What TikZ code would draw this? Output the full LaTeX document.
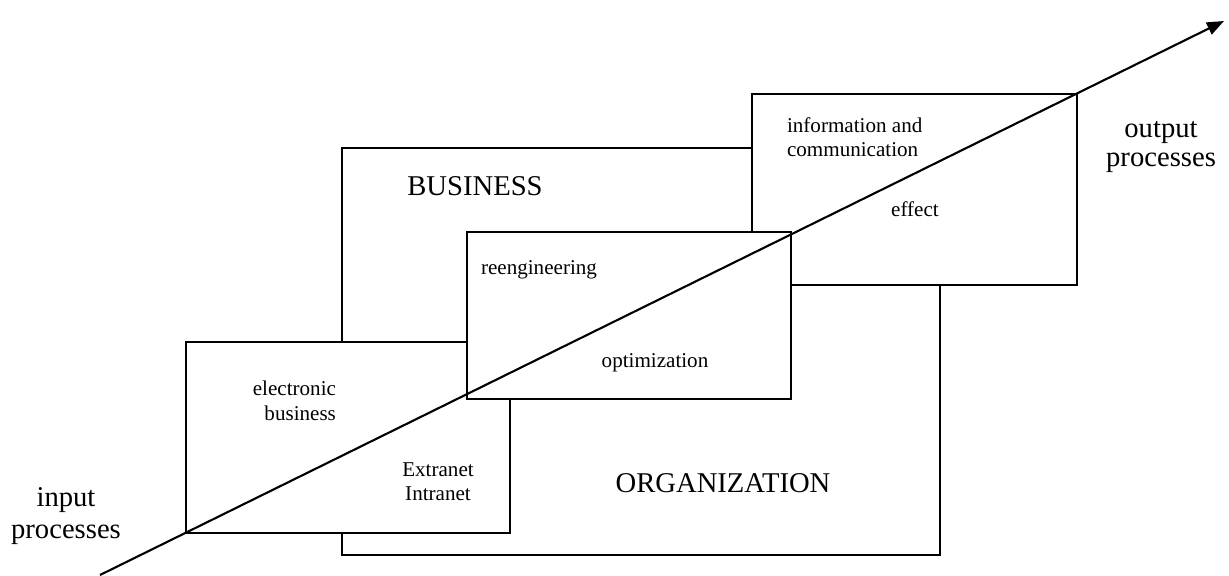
\documentclass[tikz,border=0pt]{standalone}
\usepackage{fontspec}
\setmainfont{Liberation Serif}
\usetikzlibrary{positioning,arrows.meta}

\begin{document}
\begin{tikzpicture}[x=0.02cm, y=-0.02cm, line width=1.2pt,
	b/.style={draw, fill=white, inner sep=0pt},
	bt/.style={inner sep=0pt, font=\fontsize{16.3}{18.7}\selectfont},
	st/.style={inner sep=0pt, font=\fontsize{12}{14}\selectfont}]
	\useasboundingbox (0,0) rectangle (1229,575);
	%boxes
	\node(org)[b, minimum width=11.96cm, minimum height=8.14cm] at (641,351.5){};
	\node(eb)[b, minimum width=6.48cm, minimum height=3.82cm] at (348,437.5){};
	\node(ic)[b, minimum width=6.5cm, minimum height=3.82cm] at (914.5,189.5){};
	\node(re)[b, minimum width=6.48cm, minimum height=3.34cm] at (629,315.5){};
	%texts
	\node(t1)[bt, anchor=base] at (475,195){BUSINESS};
	\node(t2)[bt, anchor=base] at (723,492){ORGANIZATION};
	\node(t3)[st, anchor=east, align=right] at (337,401){electronic\\business};
	\node(t4)[st, align=center] at (438,481.5){Extranet\\Intranet};
	\node(t5)[st, anchor=base] at (539,274){reengineering};
	\node(t6)[st, anchor=base] at (655,367){optimization};
	\node(t7)[st, anchor=west, align=left, font=\fontsize{12}{13.4}\selectfont] at (786,137){information and\\communication};
	\node(t8)[st, anchor=base] at (915,216){effect};
	\node(in)[bt, align=center] at (66,516){input\\processes};
	\node(out)[bt, align=center, font=\fontsize{16.3}{16.4}\selectfont] at (1161,147){output\\processes};
	%arrow
	\coordinate(p0) at (100,575);
	\coordinate(p1) at (1224,21);
	\draw[-{Triangle[length=0.34cm, width=0.26cm]}] (p0) -- (p1);
\end{tikzpicture}
\end{document}
